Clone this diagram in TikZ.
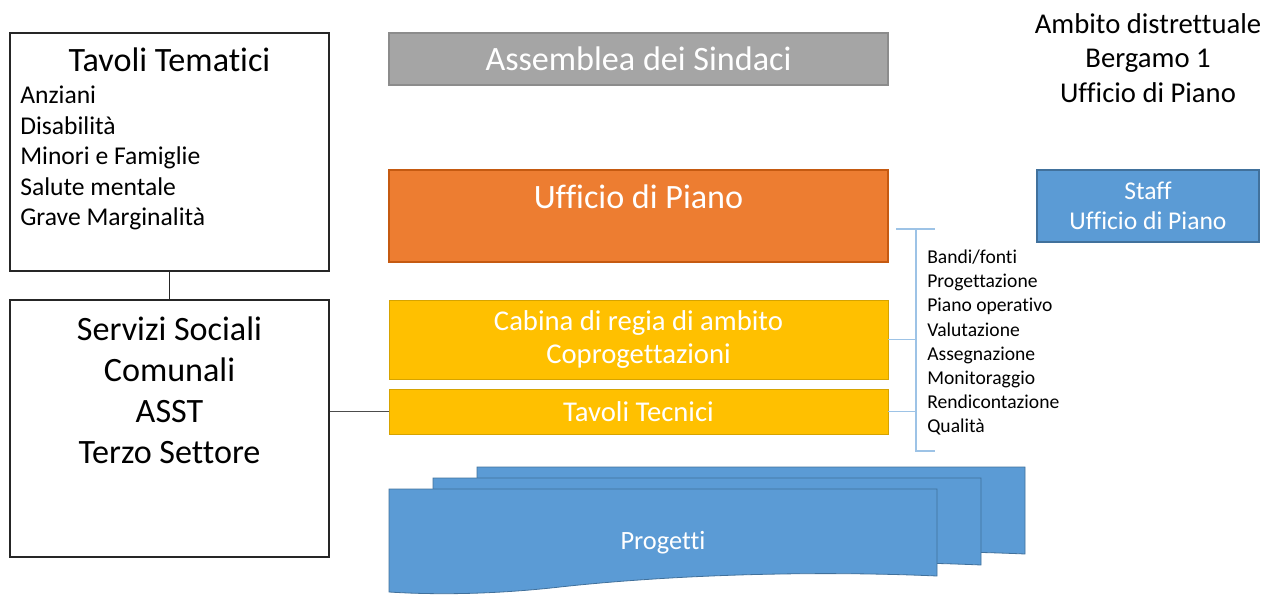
\documentclass[tikz,border=0pt]{standalone}
\usepackage{fontspec}
\setmainfont{Carlito}[Ligatures={NoCommon}]
\usetikzlibrary{positioning}

\definecolor{grayfill}{HTML}{A5A5A5}
\definecolor{grayline}{HTML}{8C8C8C}
\definecolor{orangefill}{HTML}{ED7D31}
\definecolor{orangeline}{HTML}{C55A11}
\definecolor{goldfill}{HTML}{FFC000}
\definecolor{goldline}{HTML}{D6A300}
\definecolor{bluefill}{HTML}{5B9BD5}
\definecolor{blueline}{HTML}{41719C}
\definecolor{bracketblue}{HTML}{9DC3E6}

\begin{document}
\begin{tikzpicture}[
    x=0.75pt, y=-0.75pt,
    whitebox/.style={draw=black!85, line width=0.9pt, fill=white, inner sep=0pt},
    graybox/.style={draw=grayline, line width=0.8pt, fill=grayfill, inner sep=0pt, text=white},
    orangebox/.style={draw=orangeline, line width=0.8pt, fill=orangefill, inner sep=0pt, text=white},
    goldbox/.style={draw=goldline, line width=0.6pt, fill=goldfill, inner sep=0pt, text=white, align=center},
    bluebox/.style={draw=blueline, line width=0.8pt, fill=bluefill, inner sep=0pt, text=white, align=center},
    bigfont/.style={font=\fontsize{25.6}{30.75}\selectfont},
    midfont/.style={font=\fontsize{21.5}{24.75}\selectfont},
    listfont/.style={font=\fontsize{19.2}{22.9}\selectfont},
    smallfont/.style={font=\fontsize{14.7}{18}\selectfont},
    bracket/.style={draw=bracketblue, line width=0.9pt},
]
\useasboundingbox (0,0) rectangle (1271,595);

% === Left column ===
\node[whitebox, minimum width=239.25pt, minimum height=178.5pt] (tematici) at (169.5, 152) {};
\node[bigfont, anchor=base] (tematicititle) at (169.5, 72) {Tavoli Tematici};
\foreach \item [count=\i from 0] in {Anziani, Disabilità, Minori e Famiglie, Salute mentale, Grave Marginalità}
    \node[listfont, anchor=base west, inner sep=0pt] (tema\i) at (20, 104+30.5*\i) {\item};

\node[whitebox, minimum width=239.25pt, minimum height=192.75pt] (servizi) at (169.5, 428.5) {};
\node[bigfont, align=center] (servizitxt) at (169.5, 390) {Servizi Sociali\\Comunali\\ASST\\Terzo Settore};

% === Central column ===
\node[graybox, bigfont, minimum width=374.25pt, minimum height=39pt] (assemblea) at (638.5, 59) {Assemblea dei Sindaci};
\node[orangebox, minimum width=374.25pt, minimum height=69pt] (ufficio) at (638.5, 216) {};
\node[bigfont, text=white] (ufficiotxt) at (638.5, 197) {Ufficio di Piano};
\node[goldbox, midfont, minimum width=374.25pt, minimum height=59.25pt] (cabina) at (638.5, 339.5) {Cabina di regia di ambito\\Coprogettazioni};
\node[goldbox, midfont, minimum width=374.25pt, minimum height=33.75pt] (tecnici) at (638.5, 411.5) {Tavoli Tecnici};

% === Progetti (stacked documents) ===
\foreach \dx/\dy in {88/-22, 44/-11, 0/0}
    \fill[bluefill, draw=blueline, line width=0.6pt, shift={(\dx,\dy)}]
        (389,489) -- (937,489) -- (937,576)
        .. controls (800,570) and (660,576) .. (560,587)
        .. controls (480,596) and (420,594) .. (389,592) -- cycle;
\node[font=\fontsize{19.8}{22}\selectfont, text=white] (progetti) at (663, 543) {Progetti};

% === Right column ===
\node[bluebox, font=\fontsize{19.2}{22.5}\selectfont, minimum width=166.5pt, minimum height=54pt] (staff) at (1148, 206) {Staff\\Ufficio di Piano};
\node[align=center, font=\fontsize{21.5}{25.9}\selectfont] (ambito) at (1148, 58) {Ambito distrettuale\\Bergamo 1\\Ufficio di Piano};

% === Bracket with activities ===
\coordinate (brtop) at (916, 229);
\coordinate (brbot) at (916, 451);
\draw[bracket] (896, 229) -- (935, 229);
\draw[bracket] (brtop) -- (brbot) -- ++(19, 0);
\draw[bracket] (cabina.east) -- (cabina.east -| brtop);
\draw[bracket] (tecnici.east) -- (tecnici.east -| brtop);
\foreach \task [count=\i from 0] in {Bandi/fonti, Progettazione, Piano operativo, Valutazione, Assegnazione, Monitoraggio, Rendicontazione, Qualità}
    \node[smallfont, anchor=base west, inner sep=0pt] (task\i) at (927, 264+24*\i) {\task};

% === Connectors ===
\draw[black!85, line width=0.9pt] (tematici) -- (servizi);
\draw[black!70, line width=0.9pt] (servizi.east |- tecnici.west) -- (tecnici.west);

\end{tikzpicture}
\end{document}
